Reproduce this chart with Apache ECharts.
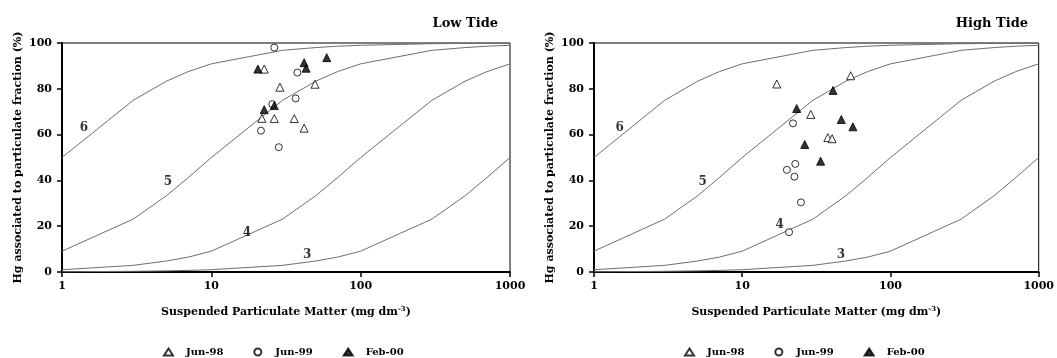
<!DOCTYPE html>
<html>
<head>
<meta charset="utf-8">
<script src="https://cdn.jsdelivr.net/npm/echarts@6/dist/echarts.min.js"></script>
<style>
  html, body { margin: 0; padding: 0; background: #ffffff; }
  #chart { width: 1057px; height: 358px; }
</style>
</head>
<body>
<div id="chart"></div>
<script>
// Suspended particulate matter values (mg dm-3) at which the partition curves are drawn
const spmPoints = [1, 3, 5, 7, 10, 30, 50, 70, 100, 300, 500, 700, 1000];

// Particulate fraction (%) along each log Kd curve
const curveKd6 = [50, 75, 83.3, 87.5, 90.9, 96.8, 98.0, 98.6, 99.0, 99.7, 99.8, 99.9, 99.9];
const curveKd5 = [9.1, 23.1, 33.3, 41.2, 50, 75, 83.3, 87.5, 90.9, 96.8, 98.0, 98.6, 99.0];
const curveKd4 = [1.0, 2.9, 4.8, 6.5, 9.1, 23.1, 33.3, 41.2, 50, 75, 83.3, 87.5, 90.9];
const curveKd3 = [0.1, 0.3, 0.5, 0.7, 1.0, 2.9, 4.8, 6.5, 9.1, 23.1, 33.3, 41.2, 50];
const curveNames = ['6', '5', '4', '3'];

// Low tide samples: [SPM, % particulate]
const lowJun98 = [[22.6, 88.6], [28.8, 80.7], [49.5, 82.0], [21.8, 67.1], [26.4, 67.0], [35.9, 67.0], [41.8, 62.8]];
const lowJun99 = [[26.4, 98.0], [37.7, 87.1], [36.7, 75.8], [25.6, 73.3], [21.5, 61.7], [28.3, 54.5]];
const lowFeb00 = [[20.5, 88.6], [41.8, 91.4], [43.1, 89.0], [59.3, 93.6], [26.4, 72.7], [22.6, 70.9]];

// High tide samples: [SPM, % particulate]
const highJun98 = [[17.1, 82.1], [53.9, 85.7], [29.0, 68.8], [37.8, 58.7], [40.4, 58.2]];
const highJun99 = [[22.0, 64.9], [22.8, 47.2], [20.0, 44.6], [22.5, 41.6], [24.9, 30.4], [20.7, 17.4]];
const highFeb00 = [[41.0, 79.3], [23.3, 71.4], [46.6, 66.6], [55.8, 63.4], [26.4, 55.7], [33.8, 48.4]];

const panelTitles = ['Low Tide', 'High Tide'];
const yTicks = [0, 20, 40, 60, 80, 100];
const xTicks = [1, 10, 100, 1000];
const seriesNames = ['Jun-98', 'Jun-99', 'Feb-00'];

const FONT = "'DejaVu Serif', 'Liberation Serif', serif";

const curves = [curveKd6, curveKd5, curveKd4, curveKd3];
const zip = (xs, ys) => xs.map((x, i) => [x, ys[i]]);

// where each curve's "log Kd" number sits, per panel, in data units
const curveLabelAt = [
  [[1.40, 62.9], [5.13, 39.3], [17.3, 17.0], [43.8, 7.4]],
  [[1.49, 62.9], [5.41, 39.3], [17.9, 20.5], [46.4, 7.4]]
];

const grids = [
  { left: 62, right: 547, top: 43, bottom: 86 },
  { left: 594, right: 12, top: 43, bottom: 86 }
];

function makeXAxis(gi) {
  return {
    type: 'log', logBase: 10, min: 1, max: 1000, gridIndex: gi,
    name: '{t|Suspended Particulate Matter (mg dm}{s|-3}{t|)}',
    nameLocation: 'middle', nameGap: 34,
    nameTextStyle: {
      rich: {
        t: { fontFamily: FONT, fontWeight: 'bold', fontSize: 11, color: '#000' },
        s: { fontFamily: FONT, fontWeight: 'bold', fontSize: 7, color: '#000', verticalAlign: 'top', padding: [0, 0, 6, 0] }
      }
    },
    axisLine: { show: true, onZero: false, lineStyle: { color: '#000', width: 2 } },
    axisTick: { show: true, inside: false, length: 5, lineStyle: { color: '#000', width: 1.5 } },
    minorTick: { show: false },
    splitLine: { show: false },
    axisLabel: {
      fontFamily: FONT, fontWeight: 'bold', fontSize: 11, color: '#000', margin: 9,
      formatter: v => (xTicks.includes(Math.round(v)) ? String(Math.round(v)) : '')
    }
  };
}

function makeYAxis(gi) {
  return {
    type: 'value', min: 0, max: 100, interval: 20, gridIndex: gi,
    name: 'Hg associated to particulate fraction (%)',
    nameLocation: 'middle', nameGap: 38, nameRotate: 90,
    nameTextStyle: { fontFamily: FONT, fontWeight: 'bold', fontSize: 11, color: '#000' },
    axisLine: { show: true, lineStyle: { color: '#000', width: 2 } },
    axisTick: { show: true, inside: false, length: 5, lineStyle: { color: '#000', width: 1.5 } },
    splitLine: { show: false },
    axisLabel: {
      fontFamily: FONT, fontWeight: 'bold', fontSize: 11, color: '#000', margin: 10,
      formatter: v => (yTicks.includes(v) ? String(v) : '')
    }
  };
}

const symbolStyles = {
  'Jun-98': { symbol: 'triangle', symbolSize: 8, itemStyle: { color: '#fff', borderColor: '#000', borderWidth: 1 } },
  'Jun-99': { symbol: 'circle', symbolSize: 7, itemStyle: { color: '#fff', borderColor: '#000', borderWidth: 1 } },
  'Feb-00': { symbol: 'triangle', symbolSize: 8, itemStyle: { color: '#000', borderColor: '#000', borderWidth: 1 } }
};

const panelData = [
  [lowJun98, lowJun99, lowFeb00],
  [highJun98, highJun99, highFeb00]
];

const series = [];
[0, 1].forEach(gi => {
  curves.forEach((c, ci) => {
    series.push({
      type: 'line', xAxisIndex: gi, yAxisIndex: gi,
      data: zip(spmPoints, c), showSymbol: false, symbol: 'none', smooth: false,
      lineStyle: { color: '#6e6e6e', width: 1 }, silent: true, z: 2
    });
  });
  series.push({
    type: 'scatter', xAxisIndex: gi, yAxisIndex: gi, symbolSize: 0, silent: true,
    data: curveLabelAt[gi].map((p, i) => ({ value: p, name: curveNames[i] })),
    label: {
      show: true, position: 'inside', formatter: p => p.name,
      fontFamily: FONT, fontWeight: 'bold', fontSize: 12, color: '#000'
    },
    z: 3
  });
  seriesNames.forEach((nm, si) => {
    series.push(Object.assign({
      type: 'scatter', name: nm, xAxisIndex: gi, yAxisIndex: gi,
      data: panelData[gi][si], z: 5
    }, symbolStyles[nm]));
  });
});

const legendCommon = {
  data: seriesNames, orient: 'horizontal', top: 342,
  itemWidth: 9, itemHeight: 7, itemGap: 30,
  textStyle: { fontFamily: FONT, fontWeight: 'bold', fontSize: 10, color: '#000', padding: [0, 0, 0, 8] },
  selectedMode: false
};

const titleStyle = { fontFamily: FONT, fontWeight: 'bold', fontSize: 13, color: '#000' };

const option = {
  backgroundColor: '#ffffff',
  animation: false,
  title: [
    { text: panelTitles[0], right: 554, top: 12, textStyle: titleStyle },
    { text: panelTitles[1], right: 24, top: 12, textStyle: titleStyle }
  ],
  grid: grids.map(g => Object.assign({ show: true, borderColor: '#000', borderWidth: 1, backgroundColor: 'transparent' }, g)),
  xAxis: [makeXAxis(0), makeXAxis(1)],
  yAxis: [makeYAxis(0), makeYAxis(1)],
  legend: [
    Object.assign({ left: 158 }, legendCommon),
    Object.assign({ left: 679 }, legendCommon)
  ],
  series: series
};

const chart = echarts.init(document.getElementById('chart'), null, { renderer: 'canvas' });
chart.setOption(option);
</script>
</body>
</html>
